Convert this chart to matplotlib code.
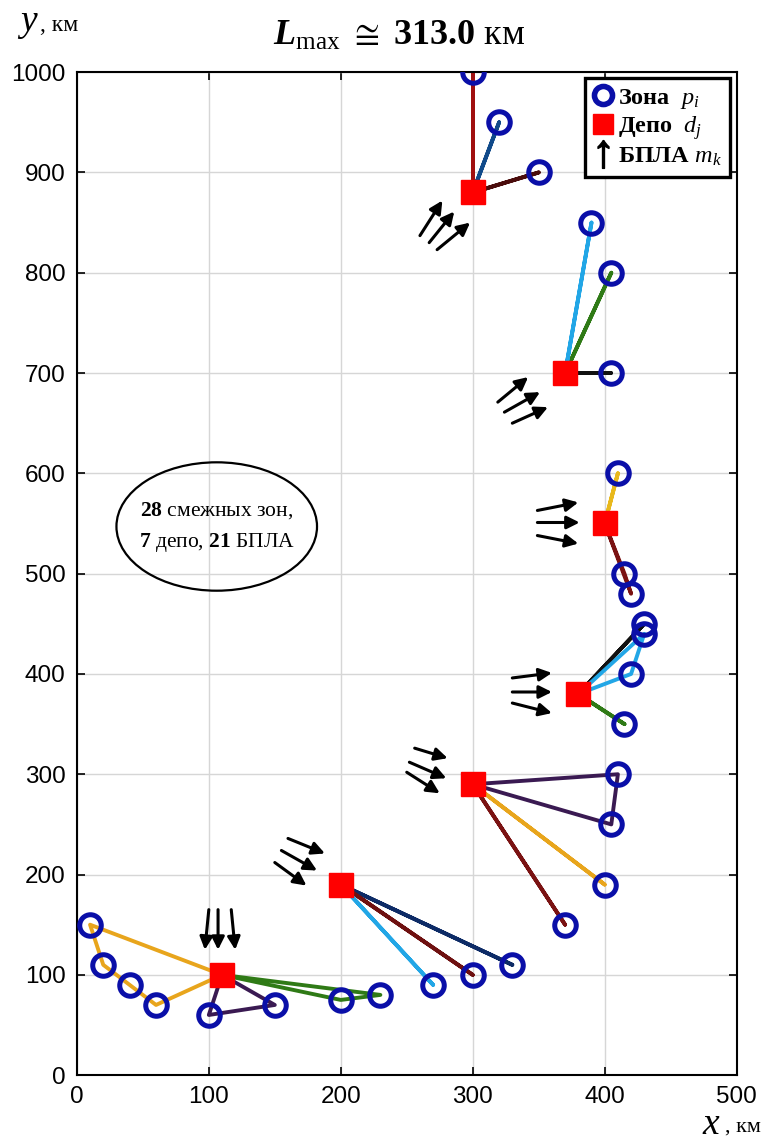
import numpy as np
import matplotlib.pyplot as plt
from matplotlib.lines import Line2D
from matplotlib.patches import Ellipse

plt.rcParams['mathtext.fontset'] = 'custom'
plt.rcParams['mathtext.rm'] = 'Liberation Serif'
plt.rcParams['mathtext.it'] = 'Liberation Serif:italic'
plt.rcParams['mathtext.bf'] = 'Liberation Serif:bold'
plt.rcParams['mathtext.bfit'] = 'Liberation Serif:italic:bold'
plt.rcParams['mathtext.fallback'] = 'stix'

# depots d_j
depot_x = [110, 200, 300, 380, 400, 370, 300]
depot_y = [100, 190, 290, 380, 550, 700, 880]

# zones p_i (28)
zone_x = [10, 20, 40, 60, 100, 150, 200, 230,
          270, 300, 330,
          370, 400, 405, 410,
          415, 420, 430, 430,
          410, 415, 420,
          405, 405, 390,
          300, 320, 350]
zone_y = [150, 110, 90, 70, 60, 70, 75, 80,
          90, 100, 110,
          150, 190, 250, 300,
          350, 400, 440, 450,
          600, 500, 480,
          700, 800, 850,
          1000, 950, 900]

# routes: depot index, visited zone indices, colour
routes = [
    (0, [0, 1, 2, 3], '#e8a51c'),
    (0, [4, 5], '#3a1a52'),
    (0, [6, 7], '#2f7a16'),
    (1, [10], '#0d2b66'),
    (1, [9], '#6e1010'),
    (1, [8], '#22a6e6'),
    (2, [14, 13], '#3a1a52'),
    (2, [12], '#e8a51c'),
    (2, [11], '#7a1212'),
    (3, [18], '#111111'),
    (3, [16, 17], '#22a6e6'),
    (3, [15], '#2f7a16'),
    (4, [19], '#e8b81c'),
    (4, [20, 21], '#7a1212'),
    (5, [22], '#111111'),
    (5, [23], '#2f7a16'),
    (5, [24], '#22a6e6'),
    (6, [25], '#a01010'),
    (6, [26], '#104a8a'),
    (6, [27], '#4a0c0c'),
]

# UAVs m_k: arrow start and end points (3 per depot)
uav_x0 = [100, 107, 117, 160, 155, 150, 256, 252, 250,
          330, 330, 330, 349, 349, 349, 319, 324, 330, 260, 267, 273]
uav_y0 = [165, 165, 165, 236, 224, 212, 326, 312, 302,
          396, 382, 371, 563, 551, 538, 671, 661, 650, 837, 830, 823]
uav_x1 = [97, 107, 120, 188, 182, 174, 281, 280, 275,
          360, 360, 360, 380, 381, 380, 342, 351, 357, 277, 286, 298]
uav_y1 = [125, 125, 125, 221, 204, 189, 316, 296, 281,
          401, 382, 361, 571, 551, 530, 696, 681, 666, 872, 861, 850]

fig = plt.figure(figsize=(7.61, 11.45), dpi=100)
ax = fig.add_axes([0.101, 0.061, 0.867, 0.876])

for d, seq, col in routes:
    xs = [depot_x[d]] + [zone_x[i] for i in seq] + [depot_x[d]]
    ys = [depot_y[d]] + [zone_y[i] for i in seq] + [depot_y[d]]
    ax.plot(xs, ys, color=col, lw=2.8, zorder=2)

ax.plot(zone_x, zone_y, 'o', ms=15.5, mfc='none', mec='#0a0fa8', mew=3.6, zorder=3)
ax.plot(depot_x, depot_y, 's', ms=17.5, mfc='#ff0000', mec='#ff0000', zorder=4)

for x0, y0, x1, y1 in zip(uav_x0, uav_y0, uav_x1, uav_y1):
    ax.annotate('', xy=(x1, y1), xytext=(x0, y0),
                arrowprops=dict(arrowstyle='-|>', color='black', lw=2.2,
                                mutation_scale=19, shrinkA=0, shrinkB=0),
                zorder=5)

ax.add_patch(Ellipse((106, 547), 152, 128, fill=False, ec='black', lw=1.6, zorder=5))
ax.text(106, 563, r'$\mathbf{28}$ смежных зон,', ha='center', va='center',
        fontsize=15.5, family='Liberation Serif', zorder=6)
ax.text(106, 531, r'$\mathbf{7}$ депо, $\mathbf{21}$ БПЛА', ha='center', va='center',
        fontsize=15.5, family='Liberation Serif', zorder=6)

ax.set_xlim(0, 500)
ax.set_ylim(0, 1000)
ax.set_xticks(np.arange(0, 501, 100))
ax.set_yticks(np.arange(0, 1001, 100))
ax.grid(True, color='#d6d6d6', lw=1.0)
ax.set_axisbelow(True)
ax.tick_params(direction='in', top=True, right=True, length=6, width=1.2,
               labelsize=17.5, pad=8)
for lab in ax.get_xticklabels() + ax.get_yticklabels():
    lab.set_family('Liberation Sans')
for s in ax.spines.values():
    s.set_linewidth(1.5)

handles = [
    Line2D([], [], ls='none', marker='o', ms=13, mfc='none', mec='#0a0fa8', mew=4),
    Line2D([], [], ls='none', marker='s', ms=15, mfc='#ff0000', mec='#ff0000'),
    Line2D([], [], ls='none', marker=r'$\uparrow$', ms=20, color='black'),
]
labels = [r'Зона  $\mathit{p_i}$', r'Депо  $\mathit{d_j}$', r'БПЛА $\mathit{m_k}$']
leg = ax.legend(handles, labels, loc='upper right', bbox_to_anchor=(0.99, 0.994),
                borderaxespad=0.0,
                prop={'family': 'Liberation Serif', 'size': 17.5, 'weight': 'bold'},
                handlelength=0.8, handletextpad=0.2, labelspacing=0.15,
                borderpad=0.35, fancybox=False, framealpha=1, edgecolor='black')
leg.get_frame().set_linewidth(2.4)

fig.text(0.525, 0.968, r'$\mathbfit{L}_{\mathrm{max}}$ $\cong$ $\mathbf{313.0}$ км',
         ha='center', va='center', fontsize=26, family='Liberation Serif')
fig.text(0.022, 0.979, r'$\mathit{y}$', ha='left', va='center', fontsize=27,
         family='Liberation Serif')
fig.text(0.053, 0.978, ', км', ha='left', va='center', fontsize=17,
         family='Liberation Serif')
fig.text(0.922, 0.018, r'$\mathit{x}$', ha='left', va='center', fontsize=27,
         family='Liberation Serif')
fig.text(0.953, 0.016, ', км', ha='left', va='center', fontsize=16,
         family='Liberation Serif')

fig.savefig('out.png', dpi=100)
